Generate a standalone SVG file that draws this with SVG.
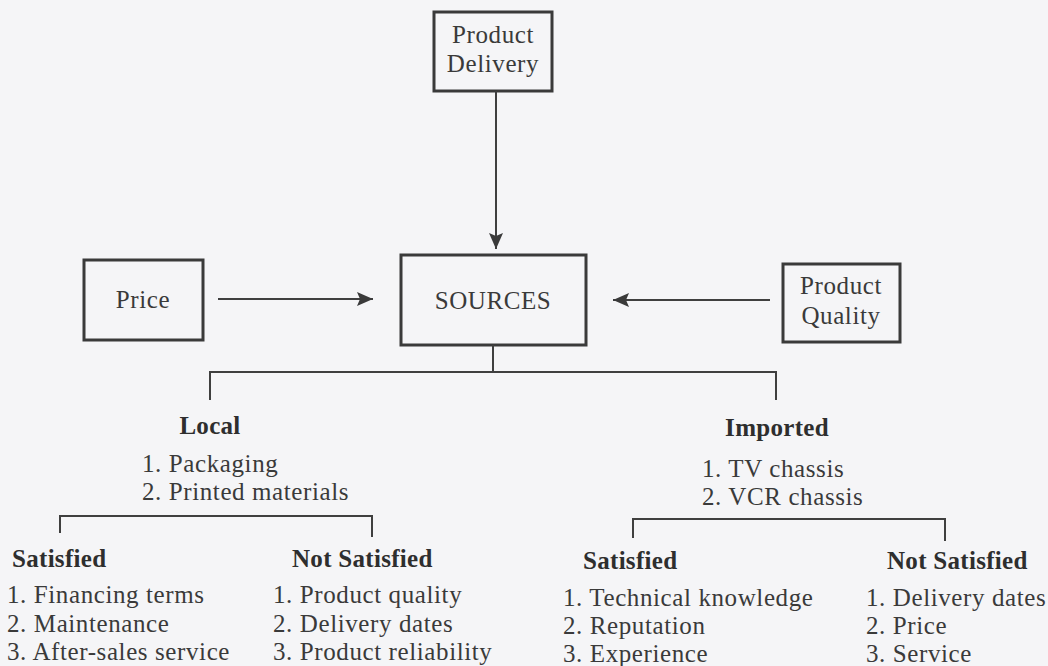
<svg xmlns="http://www.w3.org/2000/svg" width="1048" height="666" viewBox="0 0 1048 666">
  <defs>
    <marker id="arr" viewBox="0 0 16 14" refX="16" refY="7" markerWidth="16" markerHeight="14" markerUnits="userSpaceOnUse" orient="auto">
      <path d="M0,0 L16,7 L0,14 L3,7 Z" fill="#3a3a3a"/>
    </marker>
    <style>
      .box { fill: none; stroke: #3a3a3a; stroke-width: 3; }
      .ln { fill: none; stroke: #3f3f3f; stroke-width: 2; }
      .arrow { fill: none; stroke: #3f3f3f; stroke-width: 2; }
      .t { font-family: "Liberation Serif", "Times New Roman", "DejaVu Serif", serif; font-size: 25px; fill: #3a3a3a; letter-spacing: 0.6px; }
      .b { font-family: "Liberation Serif", "Times New Roman", "DejaVu Serif", serif; font-size: 25px; font-weight: bold; fill: #2e2e2e; letter-spacing: 0.3px; }
      .c { text-anchor: middle; }
    </style>
  </defs>
  <rect width="1048" height="666" fill="#f5f5f7"/>

  <g id="product-delivery">
    <rect class="box" x="434" y="12" width="118" height="79"/>
    <text class="t c" x="493" y="43">Product</text>
    <text class="t c" x="493" y="72">Delivery</text>
  </g>

  <g id="price">
    <rect class="box" x="84" y="260" width="119" height="80"/>
    <text class="t c" x="143" y="308">Price</text>
  </g>

  <g id="sources">
    <rect class="box" x="401" y="255" width="185" height="90"/>
    <text class="t c" x="493" y="309">SOURCES</text>
  </g>

  <g id="product-quality">
    <rect class="box" x="783" y="264" width="117" height="78"/>
    <text class="t c" x="841" y="294">Product</text>
    <text class="t c" x="841" y="324">Quality</text>
  </g>

  <g id="connectors">
    <line class="arrow" x1="496" y1="91" x2="496" y2="249" marker-end="url(#arr)"/>
    <line class="arrow" x1="218" y1="299" x2="373" y2="299" marker-end="url(#arr)"/>
    <line class="arrow" x1="770" y1="300" x2="613" y2="300" marker-end="url(#arr)"/>
    <path class="ln" d="M493,345 V372 M210,372 H776 M210,371 V400 M776,371 V400"/>
    <path class="ln" d="M60,533 V516 H372 V537"/>
    <path class="ln" d="M633,538 V519 H945 V541"/>
  </g>

  <g id="local">
    <text class="b c" x="210" y="434">Local</text>
    <text class="t" x="142" y="472">1. Packaging</text>
    <text class="t" x="142" y="500">2. Printed materials</text>
  </g>

  <g id="imported">
    <text class="b c" x="777" y="436">Imported</text>
    <text class="t" x="702" y="477">1. TV chassis</text>
    <text class="t" x="702" y="505">2. VCR chassis</text>
  </g>

  <g id="local-satisfied">
    <text class="b" x="12" y="567">Satisfied</text>
    <text class="t" x="7" y="603">1. Financing terms</text>
    <text class="t" x="7" y="632">2. Maintenance</text>
    <text class="t" x="7" y="660">3. After-sales service</text>
  </g>

  <g id="local-not-satisfied">
    <text class="b" x="292" y="567">Not Satisfied</text>
    <text class="t" x="273" y="603">1. Product quality</text>
    <text class="t" x="273" y="632">2. Delivery dates</text>
    <text class="t" x="273" y="660">3. Product reliability</text>
  </g>

  <g id="imported-satisfied">
    <text class="b" x="583" y="569">Satisfied</text>
    <text class="t" x="563" y="606">1. Technical knowledge</text>
    <text class="t" x="563" y="634">2. Reputation</text>
    <text class="t" x="563" y="662">3. Experience</text>
  </g>

  <g id="imported-not-satisfied">
    <text class="b" x="887" y="569">Not Satisfied</text>
    <text class="t" x="866" y="606">1. Delivery dates</text>
    <text class="t" x="866" y="634">2. Price</text>
    <text class="t" x="866" y="662">3. Service</text>
  </g>
</svg>
